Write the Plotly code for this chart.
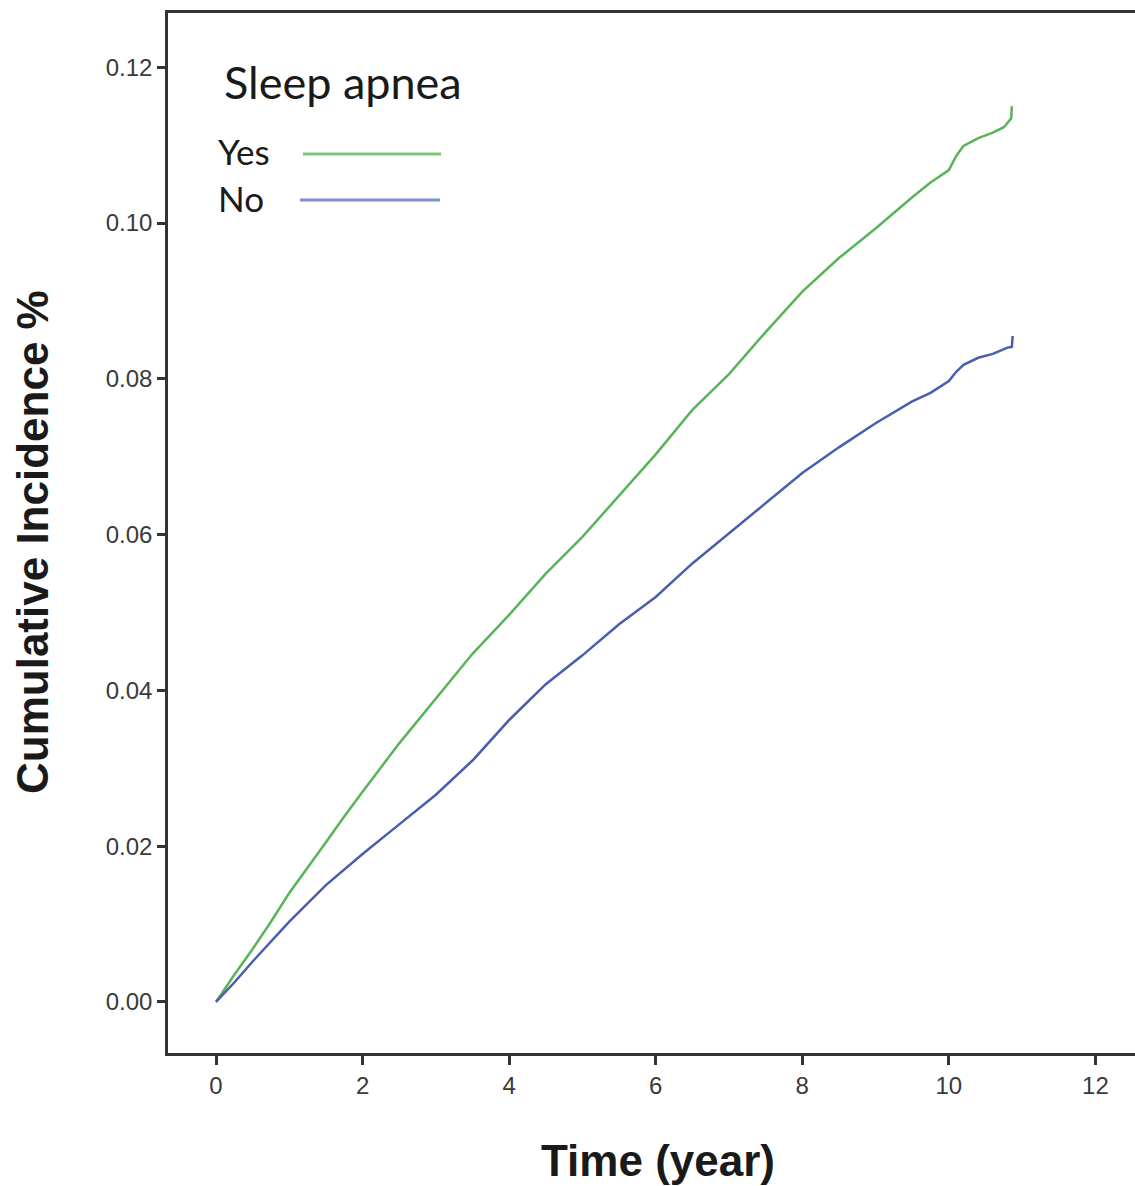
import plotly.graph_objects as go

# ---- data ----
time_yes = [0, 0.25, 0.5, 0.75, 1.0, 1.25, 1.5, 1.75, 2.0, 2.5, 3.0, 3.5, 4.0, 4.5, 5.0,
            5.5, 6.0, 6.5, 7.0, 7.5, 8.0, 8.5, 9.0, 9.5, 9.75, 10.0, 10.1, 10.2, 10.4,
            10.6, 10.75, 10.85, 10.86]
inc_yes = [0, 0.0035, 0.0068, 0.0103, 0.0140, 0.0172, 0.0205, 0.0238, 0.0270, 0.0332,
           0.0390, 0.0447, 0.0497, 0.0550, 0.0597, 0.0650, 0.0703, 0.0760, 0.0806,
           0.0860, 0.0912, 0.0955, 0.0993, 0.1033, 0.1052, 0.1068, 0.1086, 0.1099,
           0.1109, 0.1116, 0.1123, 0.1134, 0.1150]

time_no = [0, 0.25, 0.5, 0.75, 1.0, 1.5, 2.0, 2.5, 3.0, 3.5, 4.0, 4.5, 5.0, 5.5, 6.0,
           6.5, 7.0, 7.5, 8.0, 8.5, 9.0, 9.5, 9.75, 10.0, 10.1, 10.2, 10.4, 10.6, 10.8,
           10.86, 10.87]
inc_no = [0, 0.0025, 0.0052, 0.0078, 0.0103, 0.0150, 0.0190, 0.0228, 0.0266, 0.0310,
          0.0362, 0.0408, 0.0445, 0.0485, 0.0520, 0.0563, 0.0602, 0.0640, 0.0679,
          0.0712, 0.0743, 0.0771, 0.0782, 0.0797, 0.0809, 0.0818, 0.0827, 0.0832,
          0.0840, 0.0841, 0.0855]

x_ticks = [0, 2, 4, 6, 8, 10, 12]
y_ticks = [0.00, 0.02, 0.04, 0.06, 0.08, 0.10, 0.12]
y_tick_text = ["0.00", "0.02", "0.04", "0.06", "0.08", "0.10", "0.12"]

legend_title = "Sleep apnea"
series_names = ["Yes", "No"]
GREEN = "#58b458"
BLUE = "#4a5db0"
GREEN_L = "#7cc57a"
BLUE_L = "#7d8fcb"

fig = go.Figure()
fig.add_trace(go.Scatter(x=time_yes, y=inc_yes, mode="lines", name=series_names[0],
                         line=dict(color=GREEN, width=2.5), showlegend=False))
fig.add_trace(go.Scatter(x=time_no, y=inc_no, mode="lines", name=series_names[1],
                         line=dict(color=BLUE, width=2.5), showlegend=False))

axis_font = dict(family="Liberation Sans, Arial, sans-serif", size=24, color="#3a3a3a")

fig.update_xaxes(range=[-0.655, 12.54], tickvals=x_ticks, ticks="outside", ticklen=9,
                 tickwidth=2.5, tickcolor="#333333", showline=True, linewidth=2.5,
                 linecolor="#333333", mirror=True, showgrid=False, zeroline=False,
                 tickfont=axis_font)
fig.update_yaxes(range=[-0.00655, 0.12696], tickvals=y_ticks, ticktext=y_tick_text,
                 ticks="outside", ticklen=8, tickwidth=2.5, tickcolor="#333333",
                 showline=True, linewidth=2.5, linecolor="#333333", mirror=False,
                 showgrid=False, zeroline=False, tickfont=axis_font)

PW, PH, PL, PB = 967, 1040, 168, 1053


def px(x):
    return (x - PL) / PW


def py(y):
    return (PB - y) / PH


# legend drawn manually (text left of line sample)
fig.add_annotation(xref="paper", yref="paper", x=px(222), y=py(82),
                   text=legend_title, showarrow=False, xanchor="left", yanchor="middle",
                   font=dict(family="Lato, Carlito, sans-serif", size=45, color="#1a1a1a"))
fig.add_annotation(xref="paper", yref="paper", x=px(216), y=py(151),
                   text=series_names[0], showarrow=False, xanchor="left", yanchor="middle",
                   font=dict(family="Lato, Carlito, sans-serif", size=35, color="#1a1a1a"))
fig.add_annotation(xref="paper", yref="paper", x=px(216), y=py(198),
                   text=series_names[1], showarrow=False, xanchor="left", yanchor="middle",
                   font=dict(family="Lato, Carlito, sans-serif", size=35, color="#1a1a1a"))
fig.add_shape(type="line", xref="paper", yref="paper",
              x0=px(303), x1=px(441), y0=py(154), y1=py(154),
              line=dict(color=GREEN_L, width=3))
fig.add_shape(type="line", xref="paper", yref="paper",
              x0=px(300), x1=px(440), y0=py(200), y1=py(200),
              line=dict(color=BLUE_L, width=3))

# axis titles
fig.add_annotation(xref="paper", yref="paper", x=px(658), y=py(1160),
                   text="<b>Time (year)</b>", showarrow=False, xanchor="center", yanchor="middle",
                   font=dict(family="Liberation Sans, Arial, sans-serif", size=44, color="#1a1a1a"))
fig.add_annotation(xref="paper", yref="paper", x=px(32), y=py(542),
                   text="<b>Cumulative Incidence %</b>", showarrow=False, textangle=-90,
                   xanchor="center", yanchor="middle",
                   font=dict(family="Liberation Sans, Arial, sans-serif", size=44, color="#1a1a1a"))

fig.update_layout(width=1135, height=1186, margin=dict(l=168, r=0, t=13, b=133),
                  paper_bgcolor="white", plot_bgcolor="white")

fig.write_html("out.html", config={"displayModeBar": False},
               post_script="document.body.style.margin='0';document.body.style.overflow='hidden';")
